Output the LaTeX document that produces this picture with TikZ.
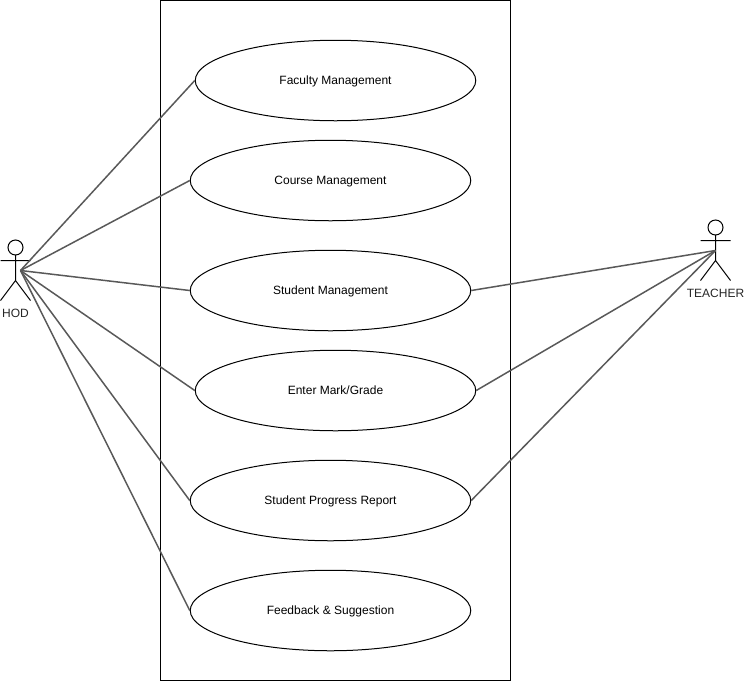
\documentclass[tikz,border=0pt]{standalone}
\usepackage{fontspec}
\setmainfont{Liberation Sans}
\usetikzlibrary{shapes.geometric}
\tikzset{x=1pt,y=-1pt,
  usecase/.style={draw, ellipse, minimum width=280.5pt, minimum height=80.5pt, inner sep=0pt, font=\fontsize{12}{14}\selectfont, text height=10.5pt, text depth=2pt, line width=1pt},
  actorname/.style={font=\fontsize{12}{14}\selectfont, inner sep=0pt, text=black!85},
  link/.style={draw=black!65, line width=1.5pt}}
\begin{document}
\begin{tikzpicture}
   \useasboundingbox (0,0) rectangle (744,681);
   \node[draw, line width=1pt, minimum width=350pt, minimum height=680pt, inner sep=0pt, anchor=north west] (sys) at (160,0) {};

   \node[usecase] (faculty) at (335.5,80.5) {Faculty Management};
   \node[usecase] (course) at (330.5,180.5) {Course Management};
   \node[usecase] (student) at (330.5,290.5) {Student Management};
   \node[usecase] (mark) at (335.5,390.5) {Enter Mark/Grade};
   \node[usecase] (progress) at (330.5,500.5) {Student Progress Report};
   \node[usecase] (feedback) at (330.5,610.5) {Feedback \& Suggestion};

   % HOD
   \coordinate (hodhand) at (20.5,270.5);
   \draw[line width=1pt] (15.5,247.5) circle (7.5);
   \draw[line width=1pt] (15.5,255) -- (15.5,280.5) (0.5,260.5) -- (30.5,260.5) (0.5,300.5) -- (15.5,280.5) -- (30.5,300.5);
   \node[actorname] (hod) at (15.5,313.5) {HOD};

   % TEACHER
   \coordinate (teacherhand) at (715.5,250.5);
   \draw[line width=1pt] (715.5,227.5) circle (7.5);
   \draw[line width=1pt] (715.5,235) -- (715.5,260.5) (700.5,240.5) -- (730.5,240.5) (700.5,280.5) -- (715.5,260.5) -- (730.5,280.5);
   \node[actorname] (teacher) at (715.5,293.5) {TEACHER};

   \foreach \u in {faculty, course, student, mark, progress, feedback}
     \draw[link] (hodhand) -- (\u.west);
   \foreach \u in {student, mark, progress}
     \draw[link] (\u.east) -- (teacherhand);
\end{tikzpicture}
\end{document}
